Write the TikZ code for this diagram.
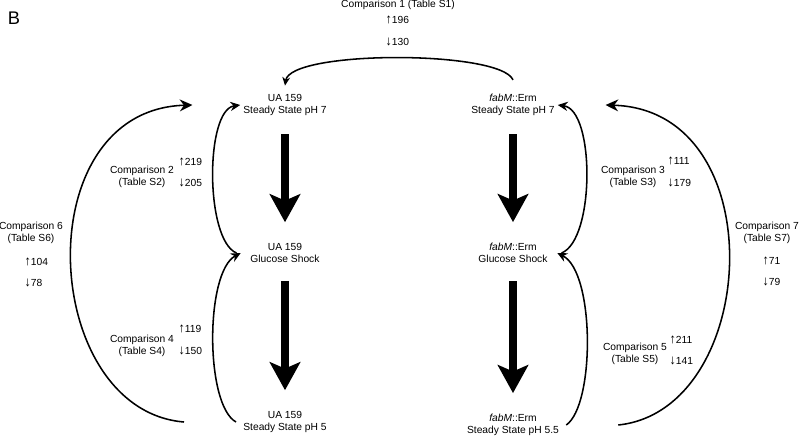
\documentclass[tikz,border=0pt]{standalone}
\usepackage{fontspec}
\setmainfont{Liberation Sans}
\usetikzlibrary{arrows.meta}
\newcommand{\upn}[1]{{\fontsize{9.5}{9.5}\selectfont ↑}#1}
\newcommand{\dnn}[1]{{\fontsize{9.5}{9.5}\selectfont ↓}#1}
\begin{document}
\begin{tikzpicture}[x=0.025cm,y=-0.025cm,
    state/.style={align=center,minimum width=2.2cm,inner sep=2pt,font=\fontsize{7.3}{8.6}\selectfont},
    lbl/.style={align=center,inner sep=0pt,font=\fontsize{7.3}{8.6}\selectfont},
    cnt/.style={anchor=west,inner sep=0pt,font=\fontsize{7.3}{8.6}\selectfont},
    link/.style={line width=1.1pt,-{Stealth[length=7pt,width=6.5pt]}},
    biglink/.style={line width=1.1pt,-{Stealth[length=9pt,width=8.5pt]}},
    blockarrow/.style={line width=0.2cm,-{Stealth[length=0.7cm,width=0.76cm,inset=0.16cm]},
      shorten <=0.38cm,shorten >=0.45cm}]
  \useasboundingbox (0,0) rectangle (800,436);
  \node[font=\fontsize{13}{15}\selectfont,inner sep=0pt] (panel) at (14,18) {B};
  % strains and conditions
  \begin{scope}[every node/.style={state}]
    \node (wtA) at (285,105) {UA 159\\Steady State pH 7};
    \node (wtG) at (285,253) {UA 159\\Glucose Shock};
    \node (wtL) at (285,422) {UA 159\\Steady State pH 5};
    \node (fabA) at (513,105) {\textit{fabM}::Erm\\Steady State pH 7};
    \node (fabG) at (513,253) {\textit{fabM}::Erm\\Glucose Shock};
    \node (fabL) at (513,425) {\textit{fabM}::Erm\\Steady State pH 5.5};
  \end{scope}
  % comparison labels
  \node[lbl] (cmp1) at (398,5) {Comparison 1 (Table S1)};
  \node[cnt] (up1) at (385,20) {\upn{196}};
  \node[cnt] (dn1) at (385,42) {\dnn{130}};
  \node[lbl] (cmp2) at (142,177) {Comparison 2\\(Table S2)};
  \node[cnt] (up2) at (178,162) {\upn{219}};
  \node[cnt] (dn2) at (178,183) {\dnn{205}};
  \node[lbl] (cmp3) at (633,177) {Comparison 3\\(Table S3)};
  \node[cnt] (up3) at (667,161) {\upn{111}};
  \node[cnt] (dn3) at (667,183) {\dnn{179}};
  \node[lbl] (cmp4) at (142,346) {Comparison 4\\(Table S4)};
  \node[cnt] (up4) at (178,329) {\upn{119}};
  \node[cnt] (dn4) at (178,351) {\dnn{150}};
  \node[lbl] (cmp5) at (635,354) {Comparison 5\\(Table S5)};
  \node[cnt] (up5) at (669,340) {\upn{211}};
  \node[cnt] (dn5) at (669,361) {\dnn{141}};
  \node[lbl] (cmp6) at (31,233) {Comparison 6\\(Table S6)};
  \node[cnt] (up6) at (24,262) {\upn{104}};
  \node[cnt] (dn6) at (24,283) {\dnn{78}};
  \node[lbl] (cmp7) at (767,233) {Comparison 7\\(Table S7)};
  \node[cnt] (up7) at (762,261) {\upn{71}};
  \node[cnt] (dn7) at (762,282) {\dnn{79}};
  % time course
  \begin{scope}[every edge/.style={draw=black,blockarrow}]
    \path (wtA.south) edge (wtG.north);
    \path (wtG.south) edge (wtL.north);
    \path (fabA.south) edge (fabG.north);
    \path (fabG.south) edge (fabL.north);
  \end{scope}
  % comparisons
  \draw[link,-{Stealth[length=6pt,width=5.5pt]}] ([yshift=8pt]fabA.north)
    .. controls (500,50) and (290,50) .. ([yshift=4pt]wtA.north);
  \draw[link] ([xshift=-3pt]wtG.west) .. controls (205,240) and (205,110) .. (wtA.west);
  \draw[link] ([xshift=-3pt]wtL.west) .. controls (205,405) and (205,272) .. (wtG.west);
  \draw[link] ([xshift=3pt]fabG.east) .. controls (595,240) and (595,110) .. (fabA.east);
  \draw[link] ([xshift=3pt]fabL.east) .. controls (595,405) and (595,272) .. (fabG.east);
  \draw[biglink] ([xshift=-40pt]wtL.west) .. controls (40,410) and (25,110) .. ([xshift=-34pt]wtA.west);
  \draw[biglink] ([xshift=40pt]fabL.east) .. controls (760,410) and (775,110) .. ([xshift=34pt]fabA.east);
\end{tikzpicture}
\end{document}
